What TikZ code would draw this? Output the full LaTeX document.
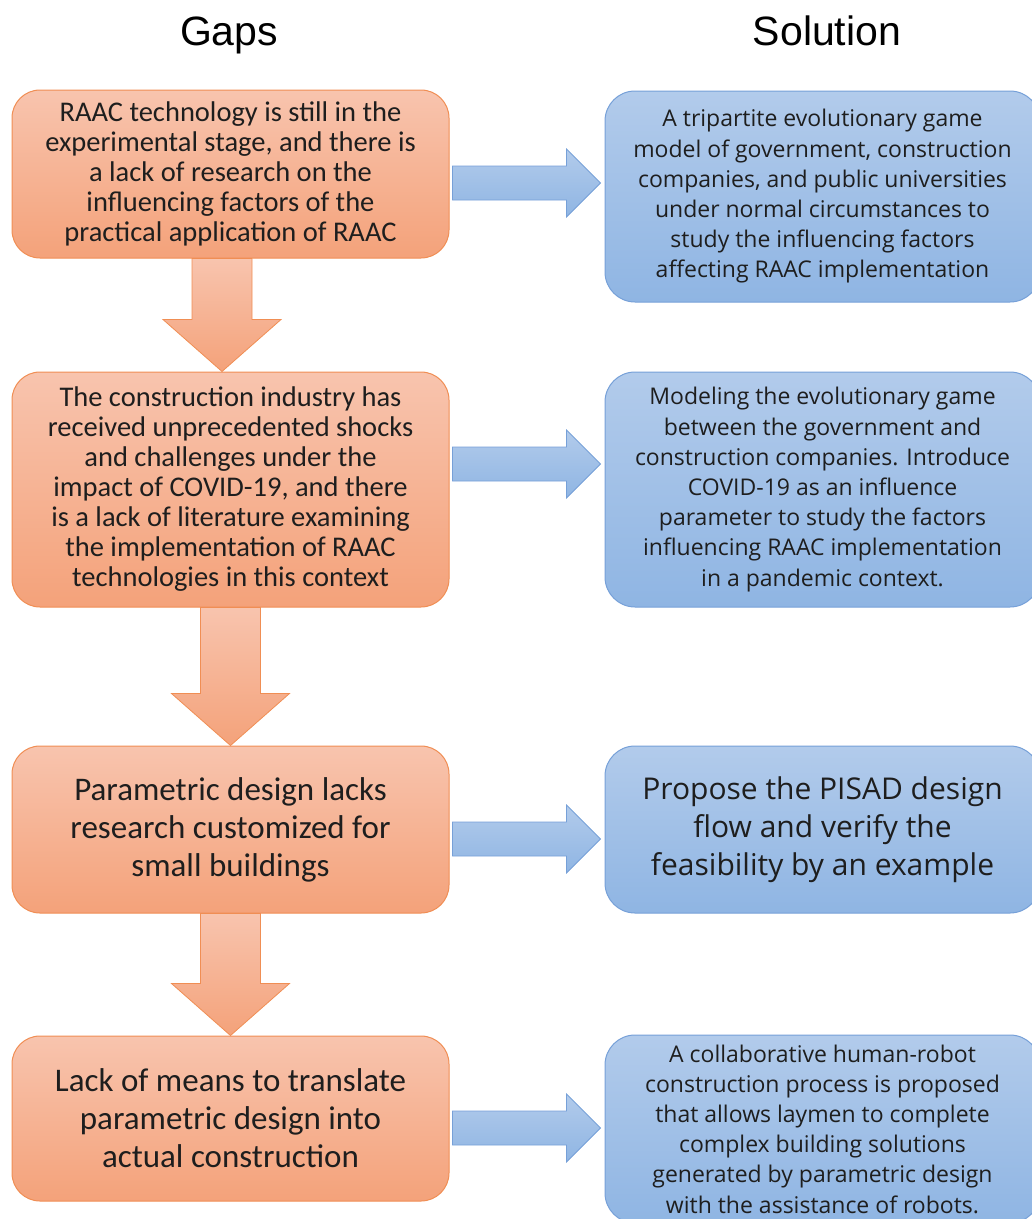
\documentclass[tikz,border=0pt]{standalone}
\usepackage{fontspec}
\setmainfont{Carlito}
\newfontfamily\solfont{Open Sans}
\newfontfamily\headfont{Liberation Sans}
\usetikzlibrary{calc}

\definecolor{gaptop}{RGB}{248,196,174}
\definecolor{gapbot}{RGB}{244,162,122}
\definecolor{gapline}{RGB}{240,142,84}
\definecolor{soltop}{RGB}{178,203,235}
\definecolor{solbot}{RGB}{143,181,227}
\definecolor{solline}{RGB}{118,160,216}
\definecolor{textgray}{RGB}{30,30,30}

\tikzset{
  gapbox/.style={draw=gapline, line width=1pt, rounded corners=28pt,
    top color=gaptop, bottom color=gapbot, minimum width=437pt,
    align=center, text=textgray, inner sep=0pt},
  solbox/.style={draw=solline, line width=1pt, rounded corners=30pt,
    top color=soltop, bottom color=solbot, minimum width=435pt,
    align=center, text=textgray, inner sep=0pt},
  gapsmall/.style={font=\fontsize{28.5}{30}\selectfont},
  gaplarge/.style={font=\fontsize{33}{38}\selectfont},
  solsmall/.style={font=\solfont\fontsize{23}{30.2}\selectfont},
  sollarge/.style={font=\solfont\fontsize{30}{38}\selectfont},
  headtext/.style={font=\headfont\fontsize{41}{48}\selectfont, anchor=base},
  blockdown/.style={draw=gapline, line width=0.8pt, top color=gaptop, bottom color=gapbot},
  blockright/.style={draw=solline, line width=0.8pt, top color=soltop, bottom color=solbot}
}

% down block arrow from #1 to #2 at x = #3
\newcommand\dblock[3]{%
  \path[blockdown] let \p1=(#1.south), \p2=(#2.north) in
    (#3pt-30pt,\y1) -- (#3pt-30pt,\y2+52pt) -- (#3pt-59pt,\y2+52pt)
    -- (#3pt,\y2) -- (#3pt+59pt,\y2+52pt) -- (#3pt+30pt,\y2+52pt)
    -- (#3pt+30pt,\y1) -- cycle;}
% right block arrow from #1 to #2 at y = #3
\newcommand\rblock[3]{%
  \path[blockright] let \p1=(#1.east), \p2=(#2.west) in
    (\x1+3pt,#3pt+17pt) -- (\x2-38pt,#3pt+17pt) -- (\x2-38pt,#3pt+34pt)
    -- (\x2-4pt,#3pt) -- (\x2-38pt,#3pt-34pt) -- (\x2-38pt,#3pt-17pt)
    -- (\x1+3pt,#3pt-17pt) -- cycle;}

\begin{document}
\begin{tikzpicture}[x=1pt,y=1pt]
  \useasboundingbox (0,0) rectangle (1032,-1219);

  % headings
  \node[headtext] (gapshead) at (229,-45) {Gaps};
  \node[headtext] (solhead) at (827,-45) {Solution};

  % gaps
  \node[gapbox, gapsmall, minimum height=168pt] (g1) at (230.5,-174)
    {RAAC technology is still in the\\experimental stage, and there is\\a lack of research on the\\influencing factors of the\\practical application of RAAC};
  \node[gapbox, gapsmall, minimum height=235pt] (g2) at (230.5,-489.5)
    {The construction industry has\\received unprecedented shocks\\and challenges under the\\impact of COVID-19, and there\\is a lack of literature examining\\the implementation of RAAC\\technologies in this context};
  \node[gapbox, gaplarge, minimum height=167pt] (g3) at (230.5,-829.5)
    {Parametric design lacks\\research customized for\\small buildings};
  \node[gapbox, gaplarge, minimum height=165pt] (g4) at (230.5,-1118.5)
    {Lack of means to translate\\parametric design into\\actual construction};

  % solutions
  \node[solbox, solsmall, minimum height=211pt] (s1) at (822.5,-196.5)
    {A tripartite evolutionary game\\model of government, construction\\companies, and public universities\\under normal circumstances to\\study the influencing factors\\affecting RAAC implementation};
  \node[solbox, solsmall, minimum height=235pt] (s2) at (822.5,-489.5)
    {Modeling the evolutionary game\\between the government and\\construction companies. Introduce\\COVID-19 as an influence\\parameter to study the factors\\influencing RAAC implementation\\in a pandemic context.};
  \node[solbox, sollarge, minimum height=167pt] (s3) at (822.5,-829.5)
    {Propose the PISAD design\\flow and verify the\\feasibility by an example};
  \node[solbox, solsmall, minimum height=188pt] (s4) at (822.5,-1129)
    {A collaborative human-robot\\construction process is proposed\\that allows laymen to complete\\complex building solutions\\generated by parametric design\\with the assistance of robots.};

  % arrows
  \dblock{g1}{g2}{222}
  \dblock{g2}{g3}{230.5}
  \dblock{g3}{g4}{230.5}
  \rblock{g1}{s1}{-183}
  \rblock{g2}{s2}{-464}
  \rblock{g3}{s3}{-839}
  \rblock{g4}{s4}{-1128}
\end{tikzpicture}
\end{document}
